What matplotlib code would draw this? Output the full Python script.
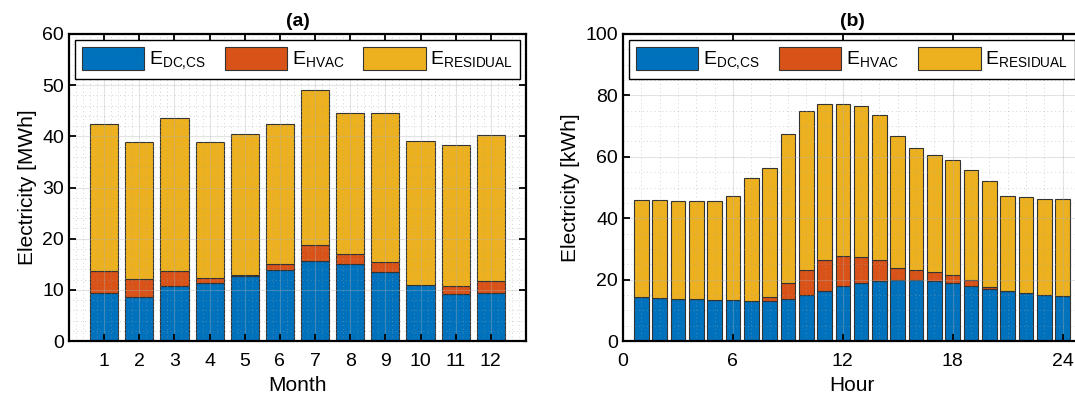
import matplotlib
matplotlib.use("Agg")
import matplotlib.pyplot as plt
from matplotlib.ticker import MultipleLocator
import numpy as np

plt.rcParams['font.family'] = ['Liberation Sans', 'DejaVu Sans']
plt.rcParams['mathtext.fontset'] = 'custom'
plt.rcParams['mathtext.rm'] = 'Liberation Sans'

# (a) monthly electricity [MWh]
months = np.arange(1, 13)
month_dc = [9.4, 8.6, 10.8, 11.4, 12.8, 13.9, 15.7, 15.1, 13.5, 10.9, 9.2, 9.4]
month_hvac_top = [13.7, 12.1, 13.7, 12.3, 12.9, 15.1, 18.8, 17.1, 15.4, 11.0, 10.7, 11.7]
month_total = [42.4, 38.9, 43.6, 38.8, 40.5, 42.4, 49.1, 44.5, 44.6, 39.0, 38.4, 40.3]

# (b) hourly electricity [kWh]
hours = np.arange(1, 25)
hour_dc = [14.4, 14.0, 13.8, 13.6, 13.5, 13.2, 12.9, 13.0, 13.7, 14.9, 16.4, 17.9,
           18.9, 19.7, 19.9, 20.0, 19.5, 18.8, 17.9, 17.0, 16.3, 15.6, 15.1, 14.8]
hour_hvac_top = [14.4, 14.0, 13.8, 13.6, 13.5, 13.2, 12.9, 14.3, 18.9, 23.2, 26.3, 27.8,
                 27.5, 26.4, 23.9, 23.2, 22.4, 21.5, 19.8, 17.6, 16.3, 15.6, 15.1, 14.8]
hour_total = [46.0, 45.8, 45.5, 45.6, 45.6, 47.1, 53.0, 56.5, 67.4, 74.9, 77.1, 77.2,
              76.5, 73.6, 66.8, 62.9, 60.7, 59.0, 55.8, 52.1, 47.1, 46.9, 46.4, 46.3]

labels = [r'$\mathrm{E}_{\mathrm{DC{,}CS}}$', r'$\mathrm{E}_{\mathrm{HVAC}}$',
          r'$\mathrm{E}_{\mathrm{RESIDUAL}}$']
colors = ['#0072BD', '#D95319', '#EDB120']


def stacked(ax, x, dc, hvac_top, total):
    dc = np.array(dc)
    hvac = np.array(hvac_top) - dc
    res = np.array(total) - np.array(hvac_top)
    kw = dict(width=0.8, edgecolor='#333333', linewidth=0.8)
    ax.bar(x, dc, color=colors[0], label=labels[0], **kw)
    ax.bar(x, hvac, bottom=dc, color=colors[1], label=labels[1], **kw)
    ax.bar(x, res, bottom=dc + hvac, color=colors[2], label=labels[2], **kw)


def style(ax, ymin_step, right=True):
    ax.yaxis.set_minor_locator(MultipleLocator(ymin_step))
    ax.grid(True, which='major', color='#b0b0b0', alpha=0.35, linewidth=0.8)
    ax.grid(True, which='minor', color='#a0a0a0', alpha=0.45, linewidth=0.7, linestyle=(0, (1, 3)))
    ax.tick_params(which='major', direction='in', length=5, width=1.3, top=True, right=right,
                   labelsize=14, colors='black')
    ax.tick_params(axis='x', which='major', pad=9)
    ax.tick_params(which='minor', length=0)
    for s in ax.spines.values():
        s.set_linewidth(1.6)
    leg = ax.legend(loc='upper left', bbox_to_anchor=(0.004, 0.0, 0.992, 0.992), mode='expand',
                    ncol=3, fontsize=14, handlelength=3.2, handleheight=1.4, fancybox=False,
                    edgecolor='black', framealpha=1, borderpad=0.35, handletextpad=0.25,
                    columnspacing=0.5, borderaxespad=0.2)
    leg.get_frame().set_linewidth(1.0)


fig = plt.figure(figsize=(10.75, 4.08), dpi=100)
ax1 = fig.add_axes([69 / 1075, 67 / 408, 457 / 1075, 307 / 408])
ax2 = fig.add_axes([623 / 1075, 67 / 408, 458 / 1075, 307 / 408])

stacked(ax1, months, month_dc, month_hvac_top, month_total)
ax1.set_xlim(0, 13)
ax1.set_ylim(0, 60)
ax1.set_xticks(months)
ax1.set_yticks(np.arange(0, 61, 10))
ax1.xaxis.set_minor_locator(MultipleLocator(0.2))
style(ax1, 2)
ax1.set_xlabel('Month', fontsize=15)
ax1.set_ylabel('Electricity [MWh]', fontsize=15)
ax1.set_title('(a)', fontsize=14, fontweight='bold', pad=6)

stacked(ax2, hours, hour_dc, hour_hvac_top, hour_total)
ax2.set_xlim(0, 25)
ax2.set_ylim(0, 100)
ax2.set_xticks([0, 6, 12, 18, 24])
ax2.set_yticks(np.arange(0, 101, 20))
ax2.xaxis.set_minor_locator(MultipleLocator(1))
style(ax2, 5, right=False)
ax2.set_xlabel('Hour', fontsize=15)
ax2.set_ylabel('Electricity [kWh]', fontsize=15)
ax2.set_title('(b)', fontsize=14, fontweight='bold', pad=6)

fig.savefig('out.png', dpi=100)
